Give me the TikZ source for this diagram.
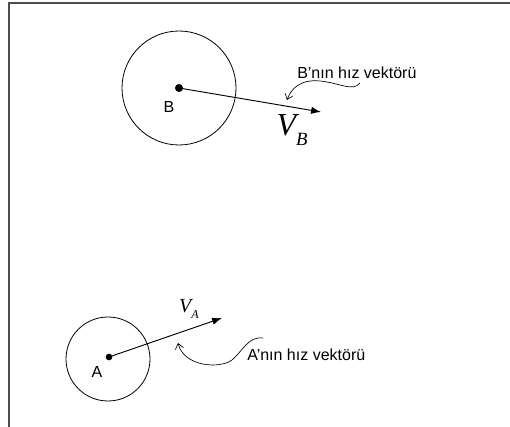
\documentclass[tikz,border=0pt]{standalone}
\usepackage{fontspec}
\setmainfont{Liberation Sans}
\newfontfamily\timesfont{Liberation Serif}
\usetikzlibrary{arrows.meta}
\tikzset{
  disk/.style={circle, draw, line width=0.6pt, inner sep=0pt},
  centerdot/.style={circle, fill=black, inner sep=0pt},
  velarr/.style={-{Latex[length=2.6mm,width=1.9mm]}, line width=0.7pt},
  notearr/.style={-{Straight Barb[length=1.4mm,width=2.2mm]}, line width=0.5pt},
  lbl/.style={font=\fontsize{12}{14}\selectfont, inner sep=0pt},
  note/.style={font=\fontsize{12}{14}\selectfont, inner sep=0pt},
  vlabel/.style={font=\timesfont\itshape, inner sep=0pt},
}
\begin{document}
\begin{tikzpicture}[x=0.75pt,y=-0.75pt]
\useasboundingbox (0,0) rectangle (510,427);
\draw[line width=1.1pt, black!70] (9,427) -- (9,3) -- (510,3);

% B
\node[disk, minimum size=85.5pt] (cB) at (179,88) {};
\node[centerdot, minimum size=6pt] (dB) at (179,88) {};
\node[lbl] (lB) at (169,106.5) {B};
\coordinate (tB) at (321,112);
\draw[velarr] (dB.center) -- (tB);
\node[vlabel] (vB) at (292,130) {\fontsize{24}{24}\selectfont V\raisebox{-0.3em}{\fontsize{14}{14}\selectfont B}};
\node[note, anchor=west] (nB) at (297,73) {B’nın hız vektörü};
\coordinate (sB) at (360,83);
\coordinate (eB) at (287,100);
\draw[notearr] (sB) .. controls (353,92) and (340,83) .. (320,81)
  .. controls (300,79) and (291,89) .. (eB);

% A
\node[disk, minimum size=63pt] (cA) at (108,359) {};
\node[centerdot, minimum size=5pt] (dA) at (109,357) {};
\node[lbl] (lA) at (97,372) {A};
\coordinate (tA) at (222,318);
\draw[velarr] (dA.center) -- (tA);
\node[vlabel] (vA) at (189,309) {\fontsize{15}{15}\selectfont V\raisebox{-0.3em}{\fontsize{9}{9}\selectfont A}};
\node[note, anchor=west] (nA) at (247,355) {A’nın hız vektörü};
\coordinate (sA) at (263,338);
\coordinate (eA) at (178,343);
\draw[notearr] (sA) .. controls (248,336) and (242,352) .. (232,360)
  .. controls (220,369) and (184,367) .. (eA);
\end{tikzpicture}
\end{document}
